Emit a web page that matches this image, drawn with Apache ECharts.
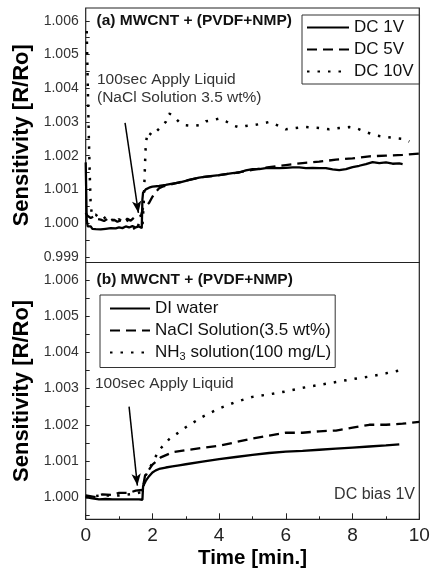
<!DOCTYPE html>
<html><head><meta charset="utf-8">
<script src="https://cdn.jsdelivr.net/npm/echarts@6/dist/echarts.min.js"></script>
<style>html,body{margin:0;padding:0;background:#fff}#c{width:431px;height:572px}</style>
</head><body><div id="c"></div>
<script>
// ---- Panel (a): MWCNT + (PVDF+NMP), NaCl 3.5 wt%, different DC bias ----
const a_dc1 = [[0,1.0018],[0.03,1.0001],[0.06,0.99990],[0.1,0.99988],[0.15,0.99990],[0.2,0.99983],[0.3,0.99982],[0.45,0.99981],[0.6,0.99983],[0.75,0.99985],[0.9,0.99984],[1.0,0.99987],[1.1,0.99985],[1.2,0.99990],[1.3,0.99987],[1.4,0.99991],[1.5,0.99987],[1.6,0.99990],[1.68,0.99985],[1.7,1.0007],[1.72,1.0009],[1.8,1.00100],[1.9,1.00105],[2.0,1.00108],[2.2,1.00110],[2.4,1.00113],[2.6,1.00117],[2.8,1.00120],[3.0,1.00125],[3.2,1.00130],[3.4,1.00135],[3.6,1.00138],[3.8,1.00140],[4.0,1.00142],[4.2,1.00145],[4.4,1.00148],[4.6,1.00150],[4.8,1.00156],[5.0,1.00160],[5.2,1.00160],[5.4,1.00163],[5.6,1.00164],[5.8,1.00163],[6.0,1.00164],[6.2,1.00165],[6.4,1.00165],[6.6,1.00163],[6.8,1.00164],[7.0,1.00163],[7.2,1.00163],[7.4,1.00159],[7.6,1.00157],[7.8,1.00160],[8.0,1.00166],[8.2,1.00170],[8.4,1.00175],[8.6,1.00181],[8.8,1.00178],[9.0,1.00180],[9.2,1.00176],[9.4,1.00177],[9.5,1.00175]];
const a_dc5 = [[0,1.0003],[0.05,1.00022],[0.15,1.00015],[0.25,1.00020],[0.35,1.00012],[0.45,1.00010],[0.55,1.00006],[0.65,1.00012],[0.75,1.00005],[0.85,1.00010],[0.95,1.00004],[1.05,1.00008],[1.15,1.00003],[1.25,1.00013],[1.35,1.00007],[1.45,1.00016],[1.55,1.00019],[1.66,1.00022],[1.72,1.00045],[1.8,1.0005],[1.9,1.0006],[2.0,1.00078],[2.1,1.00092],[2.2,1.00103],[2.3,1.00108],[2.5,1.00113],[3.0,1.00126],[3.5,1.00136],[4.0,1.00142],[4.5,1.00149],[5.0,1.00158],[5.5,1.00166],[6.0,1.00172],[6.5,1.00178],[7.0,1.00182],[7.5,1.00188],[8.0,1.00192],[8.5,1.00198],[9.0,1.00200],[9.5,1.00202],[10.0,1.00206]];
const a_dc10 = [[0.03,1.0057],[0.06,1.0042],[0.09,1.0027],[0.12,1.0015],[0.15,1.0005],[0.2,1.0002],[0.3,1.00025],[0.4,1.00015],[0.5,1.0001],[0.6,1.00018],[0.7,1.00005],[0.8,1.0001],[0.9,1.0000],[1.0,1.00012],[1.1,1.00002],[1.2,1.0001],[1.3,1.00005],[1.4,0.99995],[1.5,0.99975],[1.6,1.0000],[1.7,0.9999],[1.74,1.0006],[1.76,1.0012],[1.78,1.0018],[1.8,1.0023],[1.85,1.0027],[2.0,1.0026],[2.2,1.0028],[2.4,1.0030],[2.5,1.00325],[2.6,1.0032],[2.8,1.0030],[3.0,1.0029],[3.2,1.00288],[3.4,1.0029],[3.6,1.00302],[3.8,1.00305],[4.0,1.0031],[4.2,1.00302],[4.4,1.0029],[4.6,1.00284],[4.8,1.00288],[5.0,1.0029],[5.3,1.00295],[5.5,1.0030],[5.7,1.00292],[6.0,1.00278],[6.3,1.00282],[6.6,1.00285],[7.0,1.00282],[7.3,1.00278],[7.6,1.00282],[7.9,1.00285],[8.1,1.00282],[8.4,1.0027],[8.7,1.0026],[9.0,1.00255],[9.3,1.00252],[9.5,1.0025],[9.7,1.00242]];

// ---- Panel (b): different liquids, DC bias 1V ----
const b_di = [[0,1.0000],[0.2,0.99997],[0.4,0.99994],[0.6,0.99995],[0.8,0.99994],[1.0,0.99994],[1.2,0.99994],[1.4,0.99994],[1.6,0.99994],[1.7,0.99993],[1.72,1.0003],[1.8,1.00045],[1.9,1.00058],[2.0,1.00068],[2.1,1.00074],[2.2,1.00078],[2.4,1.00082],[2.6,1.00085],[2.8,1.00088],[3.0,1.00091],[3.5,1.00098],[4.0,1.00105],[4.5,1.00111],[5.0,1.00117],[5.5,1.00122],[6.0,1.00126],[6.5,1.00128],[7.0,1.00131],[7.5,1.00134],[8.0,1.00137],[8.5,1.0014],[9.0,1.00143],[9.4,1.00146]];
const b_nacl = [[0,1.00005],[0.3,1.0000],[0.5,1.00008],[0.8,1.00006],[1.0,1.00012],[1.3,1.00012],[1.5,1.00018],[1.7,1.0002],[1.78,1.0006],[2.0,1.0009],[2.25,1.0011],[2.6,1.00124],[3.0,1.0013],[3.5,1.00136],[4.0,1.00142],[4.5,1.00152],[5.0,1.00162],[5.5,1.0017],[6.0,1.00178],[6.5,1.00178],[7.0,1.00182],[7.5,1.00184],[8.0,1.00192],[8.5,1.0020],[9.0,1.0020],[9.5,1.00203],[10.0,1.00208]];
const b_nh3 = [[0,1.0000],[0.5,1.00005],[1.0,1.00005],[1.5,1.0001],[1.7,1.00015],[1.75,1.0004],[1.8,1.0006],[2.0,1.00095],[2.2,1.0013],[2.5,1.0016],[3.0,1.00193],[3.5,1.00222],[4.0,1.00245],[4.5,1.00263],[5.0,1.00277],[5.5,1.00284],[6.0,1.00292],[6.5,1.00302],[7.0,1.0031],[7.5,1.00318],[8.0,1.00326],[8.5,1.00333],[9.0,1.00342],[9.5,1.00352]];

const xTicks = [0,2,4,6,8,10];
const aYLabels = [0.999,1.000,1.001,1.002,1.003,1.004,1.005,1.006];
const aYTicks = [0.999,0.9995,1.000,1.0005,1.001,1.0015,1.002,1.0025,1.003,1.0035,1.004,1.0045,1.005,1.0055,1.006];
const bYLabels = [1.000,1.001,1.002,1.003,1.004,1.005,1.006];
const bYTicks = [0.9995,1.000,1.0005,1.001,1.0015,1.002,1.0025,1.003,1.0035,1.004,1.0045,1.005,1.0055,1.006];
const aArrow = [[1.18,1.00297],[1.58,1.0003]];
const bArrow = [[1.30,1.0025],[1.55,1.00032]];
const aNames = ['DC 1V','DC 5V','DC 10V'];
const bNames = ['DI water','NaCl Solution(3.5 wt%)','NH3 solution(100 mg/L)'];

const FONT = 'Liberation Sans, Arial, sans-serif';
const chart = echarts.init(document.getElementById('c'), null, {renderer:'canvas'});
const solid = {color:'#000', width:2.3, type:'solid'};
const dashed = {color:'#000', width:2.3, type:[10,6]};
const dotted = {color:'#000', width:2.5, type:[2.5,8]};

function yAxis(gi, min, max, labels, ticks){
  return {type:'value', gridIndex:gi, min:min, max:max,
    name:'Sensitivity [R/Ro]', nameLocation:'middle', nameGap:53,
    nameTextStyle:{fontFamily:FONT, fontWeight:'bold', fontSize:22, color:'#000'},
    axisLine:{show:false}, splitLine:{show:false},
    axisTick:{show:true, inside:true, length:4, customValues:ticks, lineStyle:{color:'#222', width:1}},
    axisLabel:{customValues:labels, formatter:v=>v.toFixed(3), fontFamily:FONT, fontSize:14, color:'#333', margin:7}};
}
function markArrow(pts){
  return {silent:true, animation:false, symbol:['none','arrow'], symbolSize:[7,12], label:{show:false},
    lineStyle:{color:'#000', width:1.5, type:'solid'},
    data:[[{coord:pts[0]},{coord:pts[1]}]]};
}
const legendCommon = {orient:'vertical', itemGap:5, itemHeight:14, borderColor:'#333', borderWidth:1, borderRadius:0,
  itemStyle:{opacity:0, borderWidth:0}, inactiveBorderWidth:0};

chart.setOption({
  animation:false,
  grid:[
    {left:85.7, top:8, width:333.6, height:254.5, show:true, borderColor:'#222', borderWidth:1.2, containLabel:false, outerBoundsMode:'none'},
    {left:85.7, top:262.5, width:333.6, height:256.8, show:true, borderColor:'#222', borderWidth:1.2, containLabel:false, outerBoundsMode:'none'}
  ],
  xAxis:[
    {type:'value', gridIndex:0, min:0, max:10, interval:2, axisLine:{show:false}, axisTick:{show:false}, axisLabel:{show:false}, splitLine:{show:false}},
    {type:'value', gridIndex:1, min:0, max:10, interval:2,
      name:'Time [min.]', nameLocation:'middle', nameGap:29,
      nameTextStyle:{fontFamily:FONT, fontWeight:'bold', fontSize:20.5, color:'#000'},
      axisLine:{show:false}, splitLine:{show:false},
      axisTick:{show:true, inside:true, length:6, lineStyle:{color:'#222'}},
      minorTick:{show:true, splitNumber:2, length:3, lineStyle:{color:'#222'}},
      axisLabel:{fontFamily:FONT, fontSize:19, color:'#222', margin:7}}
  ],
  yAxis:[
    yAxis(0, 0.99883, 1.00638, aYLabels, aYTicks),
    yAxis(1, 0.99939, 1.00648, bYLabels, bYTicks)
  ],
  legend:[
    Object.assign({}, legendCommon, {data:aNames, left:302, top:15, padding:[4,6,4,4], itemWidth:42,
      textStyle:{fontFamily:FONT, fontSize:17, color:'#111'}}),
    Object.assign({}, legendCommon, {data:bNames, left:100, top:295, padding:[5,4,5,9], itemWidth:40,
      formatter:n=> n.startsWith('NH3') ? '{t|NH}{s|3}{t| solution(100 mg/L)}' : n,
      textStyle:{fontFamily:FONT, fontSize:17, color:'#111', rich:{t:{fontFamily:FONT, fontSize:17, color:'#111'}, s:{fontFamily:FONT, fontSize:11, color:'#111', padding:[9,0,0,0]}}}})
  ],
  series:[
    {name:aNames[0], type:'line', xAxisIndex:0, yAxisIndex:0, data:a_dc1, symbol:'none', lineStyle:solid, itemStyle:{color:'#000'}, markLine:markArrow(aArrow), z:3},
    {name:aNames[1], type:'line', xAxisIndex:0, yAxisIndex:0, data:a_dc5, symbol:'none', lineStyle:dashed, itemStyle:{color:'#000'}},
    {name:aNames[2], type:'line', xAxisIndex:0, yAxisIndex:0, data:a_dc10, symbol:'none', lineStyle:dotted, itemStyle:{color:'#000'}},
    {name:bNames[0], type:'line', xAxisIndex:1, yAxisIndex:1, data:b_di, symbol:'none', lineStyle:solid, itemStyle:{color:'#000'}, markLine:markArrow(bArrow), z:3},
    {name:bNames[1], type:'line', xAxisIndex:1, yAxisIndex:1, data:b_nacl, symbol:'none', lineStyle:dashed, itemStyle:{color:'#000'}},
    {name:bNames[2], type:'line', xAxisIndex:1, yAxisIndex:1, data:b_nh3, symbol:'none', lineStyle:dotted, itemStyle:{color:'#000'}}
  ],
  graphic:[
    {type:'text', left:96.5, top:13, style:{text:'(a) MWCNT + (PVDF+NMP)', font:'bold 15.5px '+FONT, fill:'#111'}},
    {type:'text', left:96.5, top:272, style:{text:'(b) MWCNT + (PVDF+NMP)', font:'bold 15.5px '+FONT, fill:'#111'}},
    {type:'text', left:97, top:72, style:{text:'100sec Apply Liquid', font:'15.5px '+FONT, fill:'#333'}},
    {type:'text', left:97, top:90, style:{text:'(NaCl Solution 3.5 wt%)', font:'15.5px '+FONT, fill:'#333'}},
    {type:'text', left:95, top:376, style:{text:'100sec Apply Liquid', font:'15.5px '+FONT, fill:'#333'}},
    {type:'text', right:16, top:487, style:{text:'DC bias 1V', font:'16px '+FONT, fill:'#333'}}
  ]
});
</script></body></html>
